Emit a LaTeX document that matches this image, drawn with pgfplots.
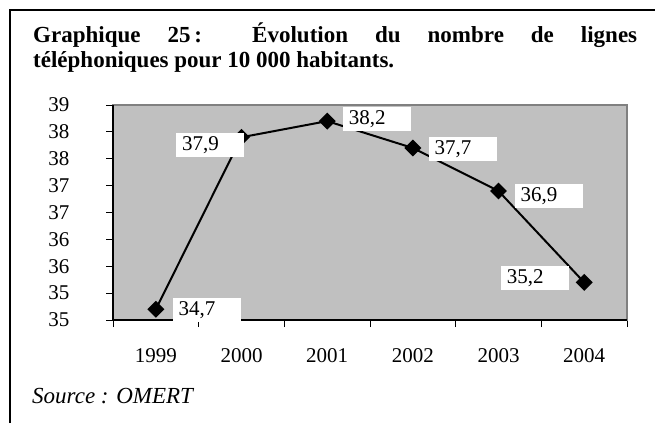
\documentclass[border=0pt]{standalone}
\usepackage{fontspec}
\setmainfont{Liberation Serif}
\usepackage{pgfplots}
\usepackage{pgfplotstable}
\pgfplotsset{compat=1.18}

\definecolor{plotgray}{RGB}{192,192,192}
\definecolor{framegray}{RGB}{128,128,128}

% year, value, label offset (pt)
\pgfplotstableread{
x y dx dy
1 34.7 50.7 -1
2 37.9 -31.5 -8
3 38.2 49.8 2
4 37.7 49.7 -1
5 36.9 50 -5
6 35.2 -49.2 4
}\lignes

\begin{document}
\begin{tikzpicture}
\useasboundingbox (0,0) rectangle (655pt,-423pt);
% cadre
\draw[line width=2pt] (10pt,-423pt) -- (10pt,-10pt) -- (655pt,-10pt);

\node[anchor=base west, inner sep=0pt, font=\bfseries\fontsize{23}{27}\selectfont]
  at (33pt,-42pt) {\makebox[604pt][s]{Graphique 25\,: Évolution du nombre de lignes}};
\node[anchor=base west, inner sep=0pt, font=\bfseries\fontsize{23}{27}\selectfont]
  at (33pt,-67pt) {téléphoniques pour 10 000 habitants.};

\begin{axis}[
    at={(113pt,-320pt)}, anchor=south west,
    scale only axis,
    width=514pt, height=215pt,
    xmin=0.5, xmax=6.5,
    ymin=34.5, ymax=38.5,
    axis background/.style={fill=plotgray},
    axis line style={framegray, line width=1.2pt},
    xtick={1,2,3,4,5,6},
    xticklabels={1999,2000,2001,2002,2003,2004},
    minor xtick={0.5,1.5,2.5,3.5,4.5,5.5,6.5},
    major x tick style={draw=none},
    ytick={34.5,35,35.5,36,36.5,37,37.5,38,38.5},
    yticklabels={35,35,36,36,37,37,38,38,39},
    xtick pos=left, ytick pos=left,
    tick align=outside,
    major tick length=7pt, minor tick length=7pt,
    tick style={black, line width=0.8pt},
    ticklabel style={font=\fontsize{21}{25}\selectfont},
    xticklabel style={yshift=-18pt},
    yticklabel style={xshift=-33pt},
    /pgf/number format/assume math mode=true,
    clip=false,
]
\draw[black, line width=1.2pt] (rel axis cs:0,1) -- (rel axis cs:0,0) -- (rel axis cs:1,0);
\addplot[
    black, line width=2pt,
    mark=square*, mark size=5pt, mark options={rotate=45, solid},
    point meta=explicit,
    visualization depends on={\thisrow{dx} \as \dx},
    visualization depends on={\thisrow{dy} \as \dy},
    nodes near coords={\pgfmathprintnumber[fixed, fixed zerofill, precision=1, use comma, assume math mode=true]{\pgfplotspointmeta}},
    nodes near coords style={anchor=center, xshift=\dx pt, yshift=\dy pt,
        fill=white, text=black, text width=56pt, align=left,
        inner xsep=6pt, inner ysep=0pt, minimum height=24pt,
        font=\fontsize{21}{25}\selectfont},
] table[x=x, y=y, meta=y] {\lignes};
\end{axis}

\node[anchor=base west, inner sep=0pt, font=\itshape\fontsize{23}{27}\selectfont]
  at (32pt,-403pt) {Source : OMERT};
\end{tikzpicture}
\end{document}
